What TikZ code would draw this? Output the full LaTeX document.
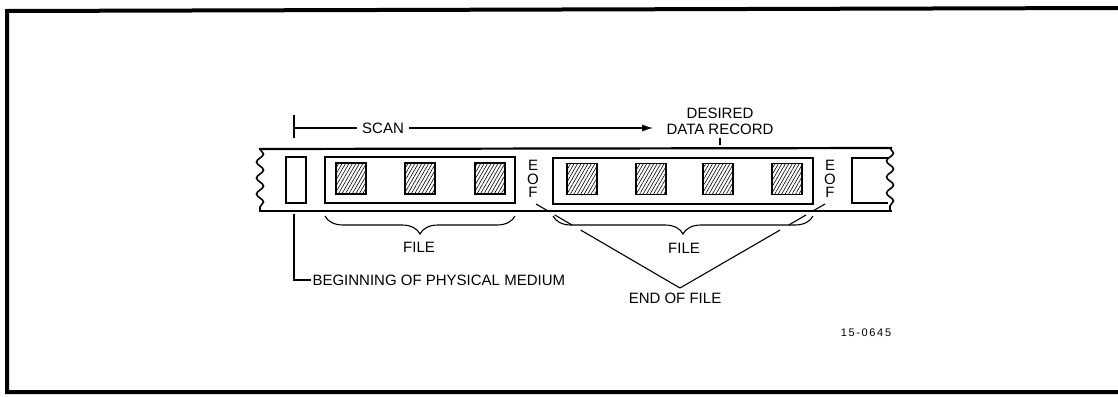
\documentclass[tikz,border=0pt]{standalone}
\usepackage{fontspec}
\setmainfont{Liberation Sans}
\usetikzlibrary{patterns.meta,decorations.pathmorphing,decorations.pathreplacing,arrows.meta,calc}
\tikzset{
  lbl/.style={font=\fontsize{15}{16}\selectfont, inner sep=1pt},
  filebox/.style={draw, line width=1.4pt, minimum height=46pt, inner sep=0pt},
  record/.style={draw, line width=1.3pt, minimum width=30pt, minimum height=31pt, inner sep=0pt,
    pattern={Lines[angle=60,distance=3pt,line width=0.6pt]}},
  eofmark/.style={font=\fontsize{15}{13.5}\selectfont, align=center, inner sep=0pt},
  tapeedge/.style={line width=2.2pt},
  ragged/.style={line width=1.6pt, decorate, decoration={snake, amplitude=3.5pt, segment length=16pt}},
  curly/.style={decorate, decoration={brace, mirror, amplitude=18pt}}
}
\begin{document}
\begin{tikzpicture}[x=1pt,y=-1pt,line width=1.1pt]
	\useasboundingbox (0,0) rectangle (1118,396);
	% frame, open on the right
	\draw[line width=4pt] (1118,8) -- (7,11) -- (7,392) -- (1118,392);
	%
	% the tape with its torn ends
	\draw[tapeedge] (259,149) -- (892,148);
	\draw[tapeedge] (259,211) -- (892,211);
	\draw[ragged] (260,149) -- (260,211);
	\draw[ragged] (890,148) -- (890,211);
	\node[filebox, minimum width=20pt] (lead) at (296,180) {};
	\draw[line width=1.4pt] (888,158) -- (852,158) -- (852,203) -- (888,203);
	%
	% files and their records
	\node[filebox, minimum width=190pt] (file1) at (420,180) {};
	\node[filebox, minimum width=260pt] (file2) at (683,181) {};
	\foreach \x [count=\i] in {351,420,490}
		\node[record] (a\i) at (\x,178.5) {};
	\foreach \x [count=\i] in {582,651,718,787}
		\node[record] (b\i) at (\x,179) {};
	\node[eofmark] (eofa) at (533,179) {E\\O\\F};
	\node[eofmark] (eofb) at (830,179) {E\\O\\F};
	%
	% scan direction
	\node[lbl, inner sep=5pt] (scan) at (383,128) {SCAN};
	\node[lbl, align=center] (want) at (720,121) {DESIRED\\DATA RECORD};
	\coordinate (scanbar) at (294,128);
	\coordinate (aim) at (653,128);
	\draw (294,115) -- (294,138);
	\draw (scanbar) -- (scan.west);
	\draw[-{Latex[length=11pt,width=7pt]}] (scan.east) -- (aim);
	\draw (want.south) ++(0,2) -- ++(0,7);
	%
	% braces
	\draw[curly] (325,216) -- (515,216);
	\draw[curly] (553,216) -- (813,216);
	\node[lbl] (fa) at (419,247) {FILE};
	\node[lbl] (fb) at (684,248) {FILE};
	%
	\node[lbl, anchor=west] (begin) at (311,280) {BEGINNING OF PHYSICAL MEDIUM};
	\coordinate (bstart) at (294,214);
	\draw (bstart) |- (begin.west);
	%
	% end of file pointers, broken where they cross
	\node[lbl, anchor=north] (end) at (675,291) {END OF FILE};
	\coordinate (apex) at (680,288);
	\coordinate (tipa) at (536,204);
	\coordinate (tipb) at (825,204);
	\foreach \a/\b in {0/0.69,0.75/0.87,0.92/1}{
		\draw ($(apex)!\a!(tipa)$) -- ($(apex)!\b!(tipa)$);
		\draw ($(apex)!\a!(tipb)$) -- ($(apex)!\b!(tipb)$);
	}
	%
	\node[font=\fontsize{11}{12}\selectfont\addfontfeature{LetterSpace=15}] (code) at (866,333) {15-0645};
\end{tikzpicture}
\end{document}
